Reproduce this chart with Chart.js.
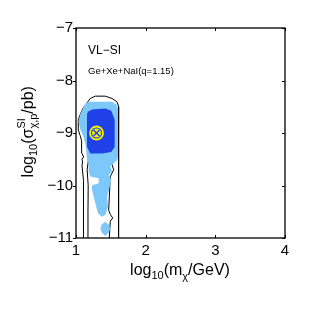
<!DOCTYPE html>
<html><head><meta charset="utf-8">
<script src="https://cdn.jsdelivr.net/npm/chart.js@4"></script>
<style>html,body{margin:0;padding:0;background:#fff}#c{display:block}</style>
</head><body>
<canvas id="c" width="313" height="313"></canvas>
<script>
// ---- data (log10 m [GeV], log10 sigma [pb]) ----
const xTicks = [1, 2, 3, 4];
const yTicks = [-11, -10, -9, -8, -7];

const lightBlueX = [1.133,1.182,1.517,1.588,1.603,1.603,1.590,1.541,1.492,1.517,1.469,1.506,1.478,1.445,1.459,1.420,1.373,1.316,1.277,1.230,1.230,1.326,1.326,1.205,1.182,1.182,1.158,1.143,1.110,1.065,1.035,1.065];
const lightBlueY = [-8.437,-8.406,-8.406,-8.469,-8.55,-9.45,-9.52,-9.576,-9.639,-9.735,-9.800,-9.895,-10.053,-10.212,-10.403,-10.563,-10.594,-10.531,-10.340,-10.086,-9.996,-9.958,-9.863,-9.830,-9.735,-9.576,-9.519,-9.265,-9.074,-8.947,-8.788,-8.628];

const blobX = [1.420,1.465,1.492,1.470,1.420,1.372,1.349,1.372];
const blobY = [-10.689,-10.74,-10.817,-10.90,-10.964,-10.90,-10.817,-10.74];

const darkBlueX = [1.172,1.230,1.420,1.506,1.541,1.555,1.555,1.506,1.373,1.205,1.158,1.158];
const darkBlueY = [-8.597,-8.552,-8.532,-8.578,-8.693,-8.75,-9.265,-9.361,-9.391,-9.391,-9.265,-8.65];

const outerX = [1.110,1.110,1.105,1.086,1.095,1.086,1.110,1.076,1.086,1.075,1.060,1.035,1.030,1.035,1.060,1.100,1.205,1.277,1.420,1.517,1.588,1.613,1.613,1.605,1.613,1.613];
const outerY = [-11.0,-10.4,-9.9,-9.62,-9.55,-9.50,-9.456,-9.361,-9.265,-9.15,-9.05,-8.95,-8.85,-8.75,-8.65,-8.53,-8.342,-8.298,-8.298,-8.342,-8.406,-8.50,-9.70,-9.78,-9.86,-11.0];

const innerX = [1.172,1.172,1.175,1.160,1.180,1.160,1.120,1.120,1.180,1.300,1.500,1.580,1.580,1.540,1.517,1.541,1.492,1.478,1.469,1.492,1.527,1.492,1.478];
const innerY = [-11.0,-10.5,-10.0,-9.7,-9.5,-9.2,-8.95,-8.75,-8.55,-8.47,-8.47,-8.55,-9.4,-9.55,-9.60,-9.70,-9.83,-10.22,-10.47,-10.55,-10.62,-10.68,-11.0];

const bestX = [1.295];
const bestY = [-9.0];

const LIGHT = 'rgb(125,200,250)';
const DARK = 'rgb(32,64,232)';
const YEL = 'rgb(240,240,0)';
const FONT = "'Liberation Sans', Arial, Helvetica, sans-serif";

const pts = (xs, ys) => xs.map((v, i) => ({x: v, y: ys[i]}));

const shape = (xs, ys, color) => ({
  data: pts(xs, ys), showLine: true, fill: 'shape', backgroundColor: color,
  borderWidth: 0, borderColor: color, pointRadius: 0, tension: 0
});
const contour = (xs, ys) => ({
  data: pts(xs, ys), showLine: true, fill: false, borderColor: '#000',
  borderWidth: 1, pointRadius: 0, tension: 0
});

const decor = {
  id: 'decor',
  afterDraw(chart) {
    const {ctx, chartArea: a, scales: {x, y}} = chart;
    ctx.save();
    ctx.strokeStyle = '#000';
    ctx.lineWidth = 1.3;
    ctx.strokeRect(a.left, a.top, a.right - a.left, a.bottom - a.top);
    ctx.lineWidth = 1;
    ctx.beginPath();
    xTicks.forEach(v => {
      const p = Math.round(x.getPixelForValue(v)) + 0.5;
      ctx.moveTo(p, a.bottom); ctx.lineTo(p, a.bottom - 3);
      ctx.moveTo(p, a.top); ctx.lineTo(p, a.top + 3);
    });
    yTicks.forEach(v => {
      const p = Math.round(y.getPixelForValue(v)) + 0.5;
      ctx.moveTo(a.left, p); ctx.lineTo(a.left - 3, p);
      ctx.moveTo(a.right, p); ctx.lineTo(a.right - 3, p);
    });
    ctx.stroke();

    ctx.fillStyle = '#000';
    ctx.textBaseline = 'alphabetic';
    ctx.textAlign = 'left';
    const drawSegs = (segs, cx, by) => {
      let w = 0;
      segs.forEach(s => {
        ctx.font = s.f + 'px ' + FONT;
        s.w = ctx.measureText(s.t).width;
        if (!s.stack) w += s.w;
      });
      // stacked pairs: use max width
      let xpos = cx - w / 2;
      for (let i = 0; i < segs.length; i++) {
        const s = segs[i];
        ctx.font = s.f + 'px ' + FONT;
        ctx.fillText(s.t, xpos, by + (s.dy || 0));
        if (s.stackWith) {
          const t = s.stackWith;
          ctx.font = t.f + 'px ' + FONT;
          const tw = ctx.measureText(t.t).width;
          ctx.fillText(t.t, xpos, by + t.dy);
          xpos += Math.max(s.w, tw);
        } else xpos += s.w;
      }
    };
    // x title
    drawSegs([
      {t: 'log', f: 16}, {t: '10', f: 11, dy: 4}, {t: '(m', f: 16},
      {t: 'χ', f: 11, dy: 5}, {t: '/GeV)', f: 16}
    ], 180, 275);
    // y title
    ctx.save();
    ctx.translate(33, 134);
    ctx.rotate(-Math.PI / 2);
    drawSegs([
      {t: 'log', f: 16}, {t: '10', f: 11, dy: 4}, {t: '(σ', f: 16},
      {t: 'SI', f: 11, dy: -8, stackWith: {t: 'χ,p', f: 11, dy: 4}},
      {t: '/pb)', f: 16}
    ], 0, 0);
    ctx.restore();

    // in-plot labels
    ctx.font = '12px ' + FONT;
    ctx.fillText('VL\u2212SI', 88, 54);
    ctx.font = '9.5px ' + FONT;
    ctx.fillText('Ge+Xe+NaI(q=1.15)', 88, 74);
    ctx.restore();
  }
};

new Chart(document.getElementById('c'), {
  type: 'scatter',
  data: {
    datasets: [
      {data: pts(bestX, bestY), pointStyle: 'crossRot', pointRadius: 4.2, borderColor: DARK, borderWidth: 1.4, backgroundColor: DARK},
      {data: pts(bestX, bestY), pointStyle: 'circle', pointRadius: 4.5, borderWidth: 0, backgroundColor: YEL},
      {data: pts(bestX, bestY), pointStyle: 'circle', pointRadius: 6.5, borderWidth: 1.8, borderColor: YEL, backgroundColor: 'rgba(0,0,0,0)'},
      shape(darkBlueX, darkBlueY, DARK),
      shape(lightBlueX, lightBlueY, LIGHT),
      shape(blobX, blobY, LIGHT),
      contour(innerX, innerY),
      contour(outerX, outerY)
    ]
  },
  options: {
    responsive: false,
    animation: false,
    devicePixelRatio: 1,
    layout: {padding: {top: 28, right: 28, left: 0, bottom: 0}},
    plugins: {legend: {display: false}, tooltip: {enabled: false}},
    scales: {
      x: {
        type: 'linear', min: 1, max: 4,
        afterFit(s) { s.height = 75; },
        afterBuildTicks(s) { s.ticks = xTicks.map(v => ({value: v})); },
        grid: {display: false, drawTicks: false},
        border: {display: false},
        ticks: {color: '#000', padding: 4, font: {size: 15, family: FONT}, maxRotation: 0}
      },
      y: {
        type: 'linear', min: -11, max: -7,
        afterFit(s) { s.width = 76; },
        afterBuildTicks(s) { s.ticks = yTicks.map(v => ({value: v})); },
        grid: {display: false, drawTicks: false},
        border: {display: false},
        ticks: {color: '#000', padding: 3, font: {size: 15, family: FONT},
          callback: v => String(v).replace('-', '\u2212')}
      }
    }
  },
  plugins: [decor]
});
</script>
</body></html>
